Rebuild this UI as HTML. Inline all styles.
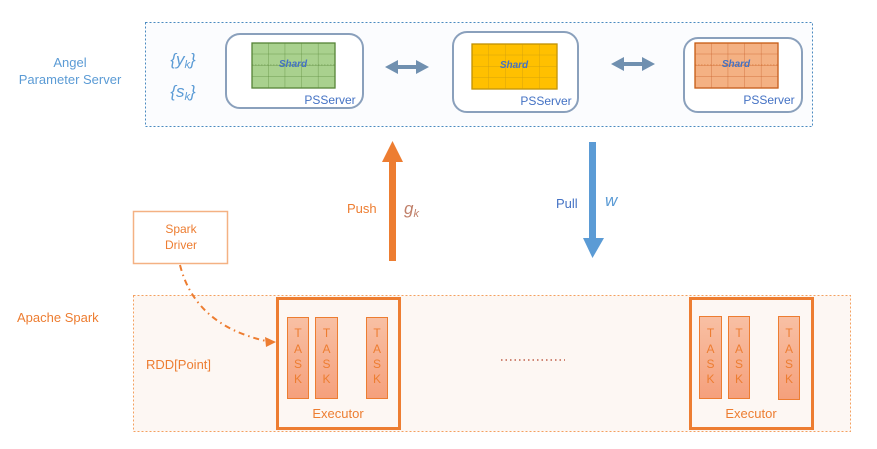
<!DOCTYPE html>
<html><head><meta charset="utf-8"><style>
html,body{margin:0;padding:0;background:#fff;}
svg{display:block;}
text{font-family:"Liberation Sans",sans-serif;}
</style></head><body>
<svg width="877" height="449" viewBox="0 0 877 449" xmlns="http://www.w3.org/2000/svg">
<defs>
<linearGradient id="tg" x1="0" y1="0" x2="0" y2="1"><stop offset="0" stop-color="#f8c0a4"/><stop offset="1" stop-color="#f5a07c"/></linearGradient>
<pattern id="g1" x="252" y="43" width="16.6" height="11.25" patternUnits="userSpaceOnUse"><path d="M16.6 0V11.25M0 11.25H16.6" stroke="#5a8a3a" stroke-width="0.7" fill="none"/></pattern>
<pattern id="g2" x="472" y="44" width="17" height="11.25" patternUnits="userSpaceOnUse"><path d="M17 0V11.25M0 11.25H17" stroke="#c89a10" stroke-width="0.7" fill="none"/></pattern>
<pattern id="g3" x="695" y="43" width="16.6" height="11.25" patternUnits="userSpaceOnUse"><path d="M16.6 0V11.25M0 11.25H16.6" stroke="#c8602a" stroke-width="0.7" fill="none"/></pattern>
</defs>
<rect x="145.5" y="22.5" width="667" height="104" fill="#fbfcfe" stroke="#4a8ac0" stroke-width="1" stroke-dasharray="2,2"/>
<text x="70" y="67" font-size="13" fill="#5b9bd5" text-anchor="middle">Angel</text>
<text x="70" y="84" font-size="13" fill="#5b9bd5" text-anchor="middle">Parameter Server</text>
<text x="183" y="65" font-size="17" font-style="italic" fill="#5b9bd5" text-anchor="middle" font-family="Liberation Serif">{y<tspan font-size="11" dy="3">k</tspan><tspan dy="-3">}</tspan></text>
<text x="183" y="97" font-size="17" font-style="italic" fill="#5b9bd5" text-anchor="middle" font-family="Liberation Serif">{s<tspan font-size="11" dy="3">k</tspan><tspan dy="-3">}</tspan></text>
<rect x="226" y="34" width="137" height="74" rx="14" fill="#fff" stroke="#8aa0bc" stroke-width="2"/>
<rect x="252" y="43" width="83" height="45" fill="#a9d18e" stroke="#548235" stroke-width="1.3"/>
<rect x="252" y="43" width="83" height="45" fill="url(#g1)"/>
<line x1="252" y1="65" x2="335" y2="65" stroke="#548235" stroke-width="0.6" stroke-dasharray="1.5,1.5"/>
<text x="293" y="67" font-size="10" fill="#4472c4" text-anchor="middle" font-style="italic" font-weight="bold">Shard</text>
<text x="330" y="104" font-size="12" fill="#4472c4" text-anchor="middle">PSServer</text>
<rect x="453" y="32" width="125" height="80" rx="14" fill="#fff" stroke="#8aa0bc" stroke-width="2"/>
<rect x="472" y="44" width="85" height="45" fill="#ffc000" stroke="#bf9000" stroke-width="1.3"/>
<rect x="472" y="44" width="85" height="45" fill="url(#g2)"/>
<text x="514" y="68" font-size="10" fill="#4472c4" text-anchor="middle" font-style="italic" font-weight="bold">Shard</text>
<text x="546" y="105" font-size="12" fill="#4472c4" text-anchor="middle">PSServer</text>
<rect x="684" y="38" width="118" height="74" rx="14" fill="#fff" stroke="#8aa0bc" stroke-width="2"/>
<rect x="695" y="43" width="83" height="45" fill="#f4b183" stroke="#c55a11" stroke-width="1.3"/>
<rect x="695" y="43" width="83" height="45" fill="url(#g3)"/>
<line x1="695" y1="65" x2="778" y2="65" stroke="#c55a11" stroke-width="0.6" stroke-dasharray="1.5,1.5"/>
<text x="736" y="67" font-size="10" fill="#4472c4" text-anchor="middle" font-style="italic" font-weight="bold">Shard</text>
<text x="769" y="104" font-size="12" fill="#4472c4" text-anchor="middle">PSServer</text>
<g fill="#7090b0">
<rect x="395" y="65" width="24" height="4"/><polygon points="385,67 398,60 398,74"/><polygon points="429,67 416,60 416,74"/>
<rect x="621" y="62" width="24" height="4"/><polygon points="611,64 624,57 624,71"/><polygon points="655,64 642,57 642,71"/>
</g>
<rect x="389" y="160" width="7" height="101" fill="#ed7d31"/>
<polygon points="392.5,141 382,162 403,162" fill="#ed7d31"/>
<text x="347" y="213" font-size="13" fill="#ed7d31">Push</text>
<text x="404" y="214" font-size="17" font-style="italic" fill="#c0806a" font-family="Liberation Serif">g<tspan font-size="11" dy="3">k</tspan></text>
<rect x="589" y="142" width="7" height="98" fill="#5b9bd5"/>
<polygon points="592.5,258 583,238 604,238" fill="#5b9bd5"/>
<text x="556" y="208" font-size="13" fill="#4472c4">Pull</text>
<text x="605" y="206" font-size="17" font-style="italic" fill="#5b9bd5" font-family="Liberation Serif">w</text>
<rect x="133.5" y="211.5" width="94" height="52" fill="#fff" stroke="#f4b183" stroke-width="1.5"/>
<text x="181" y="233" font-size="12" fill="#ed7d31" text-anchor="middle">Spark</text>
<text x="181" y="249" font-size="12" fill="#ed7d31" text-anchor="middle">Driver</text>
<rect x="133.5" y="295.5" width="717" height="136" fill="#fdf7f3" stroke="#f4a060" stroke-width="1" stroke-dasharray="2,2"/>
<text x="17" y="322" font-size="13" fill="#ed7d31">Apache Spark</text>
<text x="146" y="369" font-size="13" fill="#ed7d31">RDD[Point]</text>
<path d="M180,265 Q195,325 266,341" fill="none" stroke="#ed7d31" stroke-width="2" stroke-dasharray="6,4,1.5,4"/>
<polygon points="276,342 265,337 266,347" fill="#ed7d31"/>
<g>
<rect x="277.5" y="298.5" width="122" height="130" fill="#fdf7f3" stroke="#ed7d31" stroke-width="3"/>
<rect x="287.5" y="317.5" width="21" height="81" fill="url(#tg)" stroke="#ed7d31"/>
<rect x="315.5" y="317.5" width="22" height="81" fill="url(#tg)" stroke="#ed7d31"/>
<rect x="366.5" y="317.5" width="21" height="81" fill="url(#tg)" stroke="#ed7d31"/>
<text x="338" y="418" font-size="13" fill="#ed7d31" text-anchor="middle">Executor</text>
</g>
<g>
<rect x="690.5" y="298.5" width="122" height="130" fill="#fdf7f3" stroke="#ed7d31" stroke-width="3"/>
<rect x="699.5" y="316.5" width="22" height="82" fill="url(#tg)" stroke="#ed7d31"/>
<rect x="728.5" y="316.5" width="21" height="82" fill="url(#tg)" stroke="#ed7d31"/>
<rect x="778.5" y="316.5" width="21" height="83" fill="url(#tg)" stroke="#ed7d31"/>
<text x="751" y="418" font-size="13" fill="#ed7d31" text-anchor="middle">Executor</text>
</g>
<g font-size="12" fill="#ed7d31" text-anchor="middle">
<text x="298" y="337">T</text><text x="298" y="353">A</text><text x="298" y="368">S</text><text x="298" y="383">K</text>
<text x="326.5" y="337">T</text><text x="326.5" y="353">A</text><text x="326.5" y="368">S</text><text x="326.5" y="383">K</text>
<text x="377" y="337">T</text><text x="377" y="353">A</text><text x="377" y="368">S</text><text x="377" y="383">K</text>
<text x="710.5" y="337">T</text><text x="710.5" y="353">A</text><text x="710.5" y="368">S</text><text x="710.5" y="383">K</text>
<text x="739" y="337">T</text><text x="739" y="353">A</text><text x="739" y="368">S</text><text x="739" y="383">K</text>
<text x="789" y="337">T</text><text x="789" y="353">A</text><text x="789" y="368">S</text><text x="789" y="383">K</text>
</g>
<line x1="501" y1="360" x2="565" y2="360" stroke="#c0604a" stroke-width="1.5" stroke-dasharray="1.5,3"/>
</svg>
</body></html>
